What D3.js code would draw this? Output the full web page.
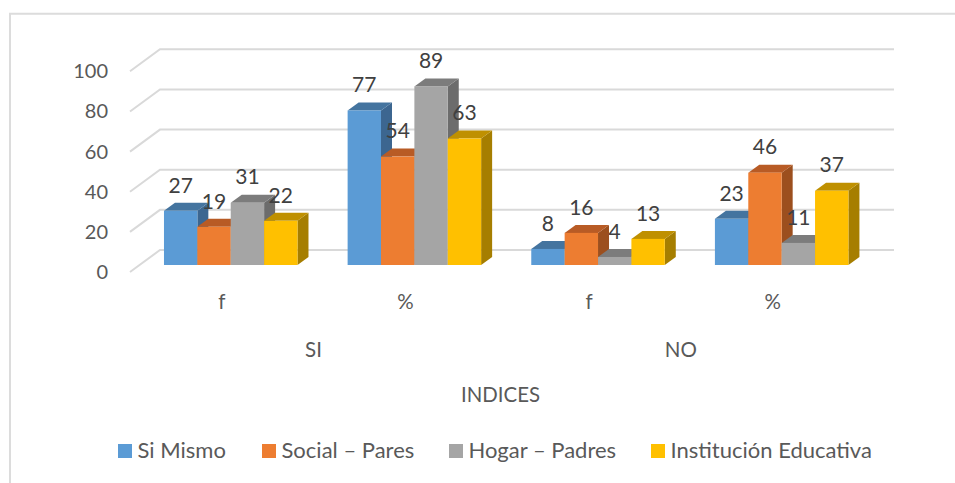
<!DOCTYPE html>
<html><head><meta charset="utf-8">
<script src="https://cdn.jsdelivr.net/npm/d3@7"></script>
<style>html,body{margin:0;padding:0;background:#fff}svg{display:block}text{font-family:Lato,"Open Sans",sans-serif;fill:#595959}text.dl{fill:#404040}</style>
</head><body><svg id="c" width="955" height="483"></svg>
<script>
const indices = ["f","%","f","%"];
const groups = ["SI","NO"];
const seriesNames = ["Si Mismo","Social – Pares","Hogar – Padres","Institución Educativa"];
const siMismo = [27,77,8,23];
const socialPares = [19,54,16,46];
const hogarPadres = [31,89,4,11];
const institucion = [22,63,13,37];
const yTicks = [0,20,40,60,80,100];
const axisTitle = "INDICES";

const front = ["#5B9BD5","#ED7D31","#A5A5A5","#FFC000"];
const top_ = ["#44749F","#B85B25","#7C7C7C","#BF9000"];
const side = ["#3C6690","#9C4F1E","#6C6C6C","#A67E00"];
const all = [siMismo,socialPares,hogarPadres,institucion];

const svg = d3.select("#c");
const y = d3.scaleLinear().domain([0,100]).range([265,64.3]);
const x0 = d3.scaleBand().domain(d3.range(4)).range([139,873.4]).paddingInner(0.273).paddingOuter(0.136);
const x1 = d3.scaleBand().domain(d3.range(4)).range([0,x0.bandwidth()]);
const dx=11, dy=8;

// frame
svg.append("path").attr("d","M10,483V13.7H955").attr("fill","none").attr("stroke","#dcdcdc").attr("stroke-width",2);

// gridlines
yTicks.forEach(t=>{
  const yy=y(t);
  svg.append("path").attr("d",`M130,${yy+7}L160,${yy-15}H894`).attr("fill","none").attr("stroke","#d9d9d9").attr("stroke-width",2);
  svg.append("text").attr("x",108).attr("y",yy+14).attr("text-anchor","end").attr("font-size",20).text(t);
});

// bars
indices.forEach((_,i)=>{
  all.forEach((vals,s)=>{
    const v=vals[i], l=x0(i)+x1(s), w=x1.bandwidth(), t=y(v), b=y(0);
    const g=svg.append("g");
    g.append("path").attr("d",`M${l+w},${t}l${dx},${-dy}V${b-dy}l${-dx},${dy}Z`).attr("fill",side[s]);
    g.append("path").attr("d",`M${l},${t}l${dx},${-dy}h${w}l${-dx},${dy}Z`).attr("fill",top_[s]);
    g.append("rect").attr("x",l).attr("y",t).attr("width",w).attr("height",b-t).attr("fill",front[s]);
  });
});
// data labels
indices.forEach((_,i)=>{
  all.forEach((vals,s)=>{
    const v=vals[i];
    svg.append("text").attr("class","dl").attr("x",x0(i)+x1(s)+x1.bandwidth()/2).attr("y",y(v)-18.3)
      .attr("text-anchor","middle").attr("font-size",21).text(v);
  });
});

// category labels
const tickNudge=-9;
indices.forEach((c,i)=>{
  svg.append("text").attr("x",x0(i)+x0.bandwidth()/2+tickNudge).attr("y",309).attr("text-anchor","middle").attr("font-size",20.5).text(c);
});
groups.forEach((g,i)=>{
  const cx=(x0(i*2)+x0(i*2+1)+x0.bandwidth())/2;
  svg.append("text").attr("x",cx-9).attr("y",356.5).attr("text-anchor","middle").attr("font-size",20.5).text(g);
});
svg.append("text").attr("x",500.5).attr("y",402).attr("text-anchor","middle").attr("font-size",20.4).text(axisTitle);

// legend
const lx=[118,262,449,651];
seriesNames.forEach((n,i)=>{
  svg.append("rect").attr("x",lx[i]).attr("y",444).attr("width",14).attr("height",14).attr("fill",front[i]);
  svg.append("text").attr("x",lx[i]+19.5).attr("y",458).attr("font-size",22).text(n);
});
</script></body></html>
